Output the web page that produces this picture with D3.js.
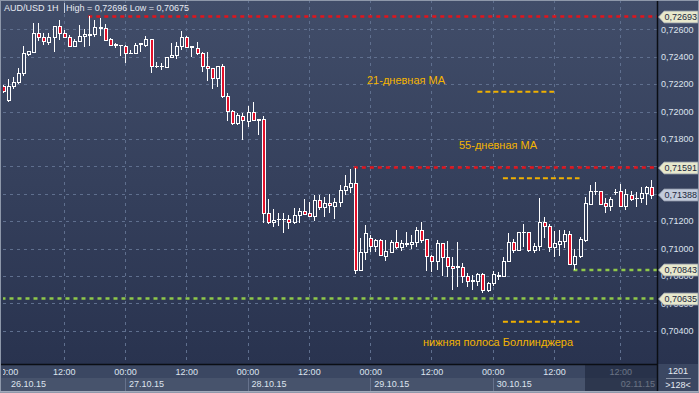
<!DOCTYPE html>
<html>
<head>
<meta charset="utf-8">
<script src="https://cdn.jsdelivr.net/npm/d3@7"></script>
<style>
  body { margin: 0; background: #2b3550; }
  svg { display: block; }
  text { font-family: "Liberation Sans", Arial, sans-serif; }
</style>
</head>
<body>
<svg id="chart" width="699" height="393"></svg>
<script>
// AUD/USD 1H candles, 26.10.15 00:00 onwards (one entry per hour)
const opens = [
  0.72181,0.72079,0.72186,0.72210,0.72274,0.72415,0.72434,0.72571,0.72542,0.72507,
  0.72542,0.72624,0.72571,0.72542,0.72478,0.72513,0.72551,0.72559,0.72561,0.72610,
  0.72605,0.72522,0.72486,0.72483,0.72478,0.72425,0.72425,0.72491,0.72483,0.72522,
  0.72327,0.72327,0.72323,0.72391,0.72410,0.72473,0.72542,0.72469,0.72459,0.72425,
  0.72332,0.72313,0.72240,0.72332,0.72113,0.71999,0.71909,0.71967,0.71929,0.71991,
  0.71934,0.71938,0.71257,0.71188,0.71211,0.71211,0.71213,0.71188,0.71242,0.71272,
  0.71252,0.71232,0.71354,0.71301,0.71330,0.71310,0.71339,0.71422,0.71442,0.71471,
  0.70843,0.70969,0.71072,0.71013,0.71062,0.70945,0.70974,0.71047,0.71009,0.71033,
  0.71028,0.71042,0.71135,0.71067,0.70945,0.70906,0.71033,0.70936,0.70867,0.70865,
  0.70863,0.70794,0.70763,0.70758,0.70807,0.70692,0.70746,0.70799,0.70794,0.70906,
  0.71047,0.70984,0.71115,0.71115,0.70984,0.71018,0.71188,0.71159,0.71009,0.71026,
  0.71050,0.71099,0.70883,0.70940,0.71062,0.71323,0.71416,0.71417,0.71325,0.71305,
  0.71410,0.71417,0.71305,0.71388,0.71364,0.71364,0.71403,0.71442
];
const highs = [
  0.72194,0.72235,0.72254,0.72315,0.72478,0.72442,0.72644,0.72644,0.72571,0.72571,
  0.72624,0.72668,0.72595,0.72561,0.72532,0.72634,0.72600,0.72696,0.72668,0.72683,
  0.72639,0.72537,0.72500,0.72486,0.72486,0.72449,0.72498,0.72498,0.72551,0.72522,
  0.72361,0.72352,0.72391,0.72498,0.72507,0.72586,0.72551,0.72478,0.72507,0.72434,
  0.72434,0.72313,0.72332,0.72347,0.72135,0.72011,0.71989,0.71989,0.72040,0.72069,
  0.71945,0.71967,0.71364,0.71291,0.71259,0.71259,0.71245,0.71296,0.71296,0.71364,
  0.71339,0.71393,0.71391,0.71376,0.71398,0.71369,0.71463,0.71539,0.71580,0.71591,
  0.71077,0.71174,0.71101,0.71072,0.71066,0.71062,0.71062,0.71135,0.71062,0.71120,
  0.71096,0.71159,0.71193,0.71069,0.70955,0.71062,0.71035,0.71057,0.70940,0.71050,
  0.70896,0.70821,0.70807,0.70821,0.70821,0.70758,0.70838,0.70831,0.70940,0.71111,
  0.71072,0.71123,0.71179,0.71123,0.71042,0.71366,0.71232,0.71179,0.71130,0.71135,
  0.71135,0.71128,0.71000,0.71086,0.71374,0.71466,0.71485,0.71420,0.71369,0.71374,
  0.71432,0.71471,0.71437,0.71422,0.71412,0.71451,0.71456,0.71500
];
const lows = [
  0.72135,0.72069,0.72162,0.72201,0.72259,0.72405,0.72431,0.72517,0.72488,0.72488,
  0.72434,0.72522,0.72551,0.72473,0.72471,0.72507,0.72473,0.72478,0.72544,0.72551,
  0.72515,0.72478,0.72464,0.72405,0.72354,0.72420,0.72420,0.72434,0.72473,0.72279,
  0.72318,0.72303,0.72323,0.72388,0.72386,0.72449,0.72464,0.72400,0.72415,0.72288,
  0.72225,0.72167,0.72181,0.72099,0.71931,0.71902,0.71902,0.71792,0.71889,0.71931,
  0.71829,0.71186,0.71182,0.71159,0.71164,0.71115,0.71142,0.71179,0.71188,0.71242,
  0.71230,0.71201,0.71281,0.71232,0.71259,0.71217,0.71305,0.71393,0.71403,0.70814,
  0.70836,0.70916,0.70974,0.70974,0.70945,0.70911,0.70965,0.70999,0.70984,0.71009,
  0.70999,0.71009,0.71038,0.70838,0.70829,0.70843,0.70799,0.70794,0.70697,0.70721,
  0.70750,0.70721,0.70697,0.70726,0.70675,0.70682,0.70726,0.70770,0.70790,0.70901,
  0.70965,0.70982,0.71013,0.70977,0.70965,0.70984,0.71077,0.70974,0.70940,0.70945,
  0.71001,0.70882,0.70843,0.70928,0.71050,0.71315,0.71388,0.71315,0.71261,0.71272,
  0.71393,0.71301,0.71281,0.71349,0.71305,0.71334,0.71320,0.71364
];
const closes = [
  0.72145,0.72186,0.72215,0.72279,0.72420,0.72440,0.72571,0.72542,0.72513,0.72542,
  0.72624,0.72571,0.72542,0.72478,0.72513,0.72551,0.72561,0.72562,0.72610,0.72613,
  0.72517,0.72483,0.72487,0.72481,0.72425,0.72427,0.72483,0.72493,0.72522,0.72327,
  0.72329,0.72329,0.72391,0.72410,0.72478,0.72542,0.72469,0.72471,0.72425,0.72332,
  0.72313,0.72240,0.72332,0.72113,0.71999,0.71909,0.71972,0.71933,0.71991,0.71933,
  0.71938,0.71257,0.71188,0.71208,0.71213,0.71213,0.71193,0.71242,0.71272,0.71247,
  0.71232,0.71354,0.71301,0.71330,0.71315,0.71339,0.71427,0.71451,0.71471,0.70836,
  0.70974,0.71106,0.71013,0.71062,0.70950,0.70980,0.71047,0.71004,0.71038,0.71034,
  0.71047,0.71135,0.71062,0.70940,0.70906,0.71033,0.70936,0.70867,0.70853,0.70866,
  0.70794,0.70758,0.70765,0.70807,0.70692,0.70746,0.70807,0.70801,0.70906,0.71047,
  0.70984,0.71115,0.71117,0.70984,0.71018,0.71188,0.71159,0.71009,0.71033,0.71051,
  0.71099,0.70883,0.70940,0.71069,0.71325,0.71416,0.71417,0.71320,0.71305,0.71359,
  0.71412,0.71305,0.71393,0.71359,0.71365,0.71403,0.71442,0.71388
];

const priceTicks = [0.704,0.706,0.708,0.710,0.712,0.714,0.716,0.718,0.720,0.722,0.724,0.726];
const timeTicks = [0,12,24,36,48,60,72,84,96,108,121];
const timeLabels = ["00:00","12:00","00:00","12:00","00:00","12:00","00:00","12:00","00:00","12:00","12:00"];
const dateStarts = [0,24,48,72,96];
const dateLabels = ["26.10.15","27.10.15","28.10.15","29.10.15","30.10.15"];
const lastDate = "02.11.15";

// horizontal levels: value and the bar where the line starts
const levelValues = [0.72693, 0.71591, 0.70843, 0.70635];
const levelStart = [17, 69, 112, 0];
const levelKind = ["res", "res", "sup", "sup"];

// indicator annotations (MA / Bollinger) and their bar span
const maLabels = ["21-дневная MA", "55-дневная MA", "нижняя полоса Боллинджера"];
const maValues = [0.72145, 0.71512, 0.70466];
const maFrom = [93, 98, 98];
const maTo = [108, 113, 113];

const barCount = "1201";
const barsShown = ">128<";

const W = 699, H = 393;
const plotL = 3, plotR = 657, plotB = 364;
const fmt = v => d3.format(".5f")(v).replace(".", ",");

const bars = opens.map((o, i) => ({ i: i, o: o, h: highs[i], l: lows[i], c: closes[i] }));

const x = d3.scaleLinear().domain([0, 127]).range([2.5, 651]);
const y = d3.scaleLinear().domain([0.704, 0.726]).range([330.7, 29.3]);

const svg = d3.select("#chart");
const defs = svg.append("defs");
const grad = defs.append("linearGradient").attr("id", "bg")
  .attr("gradientUnits", "userSpaceOnUse")
  .attr("x1", 0).attr("y1", 0).attr("x2", 0).attr("y2", plotB);
grad.append("stop").attr("offset", "0%").attr("stop-color", "#414d69");
grad.append("stop").attr("offset", "100%").attr("stop-color", "#29334f");
defs.append("clipPath").attr("id", "plotclip")
  .append("rect").attr("x", plotL).attr("y", 0).attr("width", plotR - plotL).attr("height", plotB);
defs.append("clipPath").attr("id", "plotclip2")
  .append("rect").attr("x", plotL).attr("y", -2).attr("width", plotR - plotL).attr("height", 20);

svg.append("rect").attr("width", W).attr("height", plotB).attr("fill", "url(#bg)");

const plot = svg.append("g").attr("clip-path", "url(#plotclip)");

// grid
plot.selectAll(".hgrid").data(priceTicks).enter().append("line")
  .attr("x1", plotL).attr("x2", plotR)
  .attr("y1", d => Math.round(y(d)) + 0.5).attr("y2", d => Math.round(y(d)) + 0.5)
  .attr("stroke", "#5f6f8e").attr("stroke-dasharray", "3,4");
plot.selectAll(".vgrid").data(timeTicks.slice(1)).enter().append("line")
  .attr("x1", d => Math.round(x(d)) + 0.5).attr("x2", d => Math.round(x(d)) + 0.5)
  .attr("y1", 0).attr("y2", plotB)
  .attr("stroke", "#5f6f8e").attr("stroke-dasharray", "3,4");

// level lines
plot.selectAll(".level").data(levelValues).enter().append("line")
  .attr("x1", (d, i) => x(levelStart[i]) - 1).attr("x2", plotR)
  .attr("y1", d => y(d)).attr("y2", d => y(d))
  .attr("stroke", (d, i) => levelKind[i] === "res" ? "#e2141c" : "#8fc84a")
  .attr("stroke-width", 2.5)
  .attr("stroke-dasharray", "4,4");

// MA dashes
plot.selectAll(".ma").data(maValues).enter().append("line")
  .attr("x1", (d, i) => x(maFrom[i])).attr("x2", (d, i) => x(maTo[i]))
  .attr("y1", d => y(d)).attr("y2", d => y(d))
  .attr("stroke", "#f0b000").attr("stroke-width", 2).attr("stroke-dasharray", "5,3");

// candles
const cg = plot.append("g").attr("shape-rendering", "crispEdges");
const candle = cg.selectAll(".candle").data(bars).enter().append("g");
candle.append("line")
  .attr("x1", d => Math.round(x(d.i)) + 0.5).attr("x2", d => Math.round(x(d.i)) + 0.5)
  .attr("y1", d => y(d.h)).attr("y2", d => y(d.l))
  .attr("stroke", "#ffffff");
candle.append("rect")
  .attr("x", d => Math.round(x(d.i)) - 1)
  .attr("width", 3)
  .attr("y", d => y(Math.max(d.o, d.c)))
  .attr("height", d => Math.max(0.5, y(Math.min(d.o, d.c)) - y(Math.max(d.o, d.c))))
  .attr("fill", d => d.c < d.o ? "#e3102a" : "url(#bg)")
  .attr("stroke", "#ffffff");

// annotations
const maLabelPos = [[367, 84], [459, 149], [423, 346]];
svg.selectAll(".malabel").data(maLabels).enter().append("text")
  .attr("x", (d, i) => maLabelPos[i][0]).attr("y", (d, i) => maLabelPos[i][1])
  .attr("fill", "#f5b400").attr("font-size", "11px")
  .text(d => d);

// header
svg.append("text").attr("x", 4).attr("y", 11).attr("fill", "#e6eaf2").attr("font-size", "9px")
  .text("AUD/USD 1H");
svg.append("line").attr("x1", 64.5).attr("x2", 64.5).attr("y1", 3).attr("y2", 13)
  .attr("stroke", "#c8cfdc");
svg.append("text").attr("x", 66).attr("y", 11).attr("fill", "#e6eaf2").attr("font-size", "9px")
  .text("High = " + fmt(d3.max(highs)) + " Low = " + fmt(d3.min(lows)));

// bottom axis area
svg.append("rect").attr("x", 0).attr("y", plotB).attr("width", W).attr("height", H - plotB).attr("fill", "#3b4762");
svg.append("rect").attr("x", 0).attr("y", 378).attr("width", plotR).attr("height", 13).attr("fill", "#47536c");

const xAxis = svg.append("g").attr("transform", "translate(0," + plotB + ")")
  .call(d3.axisBottom(x).tickValues(timeTicks).tickFormat((d, i) => timeLabels[i]).tickSize(0).tickPadding(4.5));
xAxis.select(".domain").remove();
xAxis.selectAll("text").attr("fill", "#dde3ee").attr("font-size", "9px").attr("font-family", null)
  .attr("x", (d, i) => i === 0 ? 4 : 0);
xAxis.attr("clip-path", "url(#plotclip2)");

svg.selectAll(".dsep").data(dateStarts.slice(1)).enter().append("line")
  .attr("x1", d => Math.round(x(d)) + 0.5).attr("x2", d => Math.round(x(d)) + 0.5)
  .attr("y1", 378).attr("y2", 391).attr("stroke", "#66728c");
svg.selectAll(".dlab").data(dateLabels).enter().append("text")
  .attr("x", (d, i) => Math.max(11, x(dateStarts[i]) + 4)).attr("y", 387)
  .attr("fill", "#dde3ee").attr("font-size", "9px").text(d => d);
svg.append("text").attr("x", plotR - 2).attr("y", 387).attr("text-anchor", "end")
  .attr("fill", "#dde3ee").attr("font-size", "9px").text(lastDate);

// shaded tail of time axis
svg.append("rect").attr("x", 585).attr("y", plotB + 1).attr("width", plotR - 585).attr("height", 26)
  .attr("fill", "#1c253b").attr("opacity", 0.6);

// black frame lines
svg.append("line").attr("x1", 0).attr("x2", plotR).attr("y1", plotB + 0.5).attr("y2", plotB + 0.5)
  .attr("stroke", "#0b0e14").attr("stroke-width", 1.5);
svg.append("line").attr("x1", plotR + 0.5).attr("x2", plotR + 0.5).attr("y1", 0).attr("y2", 391)
  .attr("stroke", "#0b0e14").attr("stroke-width", 1.5);

// right price axis
const yAxis = svg.append("g").attr("transform", "translate(" + plotR + ",0)")
  .call(d3.axisRight(y).tickValues(priceTicks).tickFormat(fmt).tickSize(0).tickPadding(4));
yAxis.select(".domain").remove();
yAxis.selectAll("text").attr("fill", "#dde3ee").attr("font-size", "9px").attr("font-family", null);

// price tags
const tagValues = levelValues.concat([closes[closes.length - 1]]);
const tag = svg.selectAll(".tag").data(tagValues).enter().append("g")
  .attr("transform", d => "translate(" + (plotR + 1) + "," + Math.round(y(d)) + ")");
tag.append("path")
  .attr("d", "M0.5,0 L6,-6 L40,-6 L40,6 L6,6 Z")
  .attr("fill", (d, i) => i === tagValues.length - 1 ? "#c2cbdc" : "#e7e8cc")
  .attr("stroke", "#8d95a4").attr("stroke-width", 0.8);
tag.append("text").attr("x", 6.5).attr("dy", "0.35em")
  .attr("fill", "#1b2740").attr("font-size", "9px").text(d => fmt(d));

// bars counter box
svg.append("text").attr("x", 678).attr("y", 374).attr("text-anchor", "middle")
  .attr("fill", "#e6eaf2").attr("font-size", "9px").text(barCount);
svg.append("line").attr("x1", 666).attr("x2", 691).attr("y1", 378.5).attr("y2", 378.5).attr("stroke", "#8e98aa");
svg.append("text").attr("x", 678).attr("y", 388).attr("text-anchor", "middle")
  .attr("fill", "#e6eaf2").attr("font-size", "9px").text(barsShown);

// outer border
svg.append("rect").attr("x", 0.5).attr("y", 0.5).attr("width", W - 1).attr("height", H - 1)
  .attr("fill", "none").attr("stroke", "#8e98aa");
svg.append("line").attr("x1", 0).attr("x2", W).attr("y1", 391.5).attr("y2", 391.5).attr("stroke", "#a3abbb");
</script>
</body>
</html>
